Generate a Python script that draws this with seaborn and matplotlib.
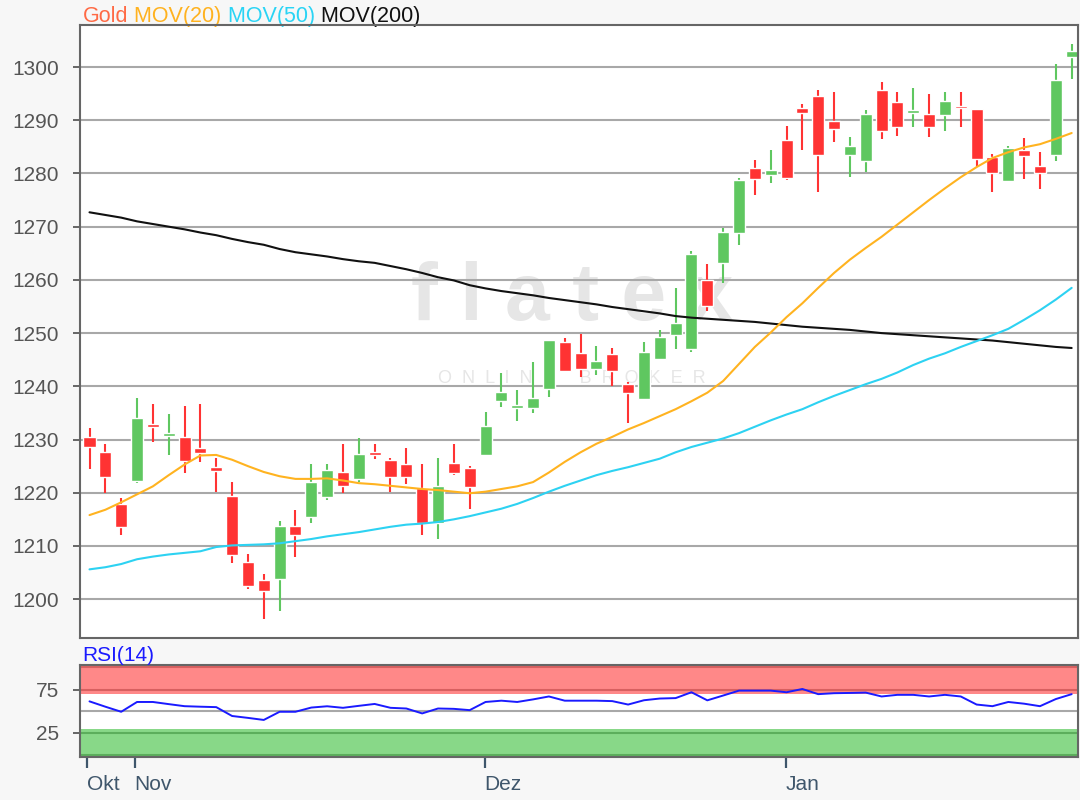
import numpy as np
import pandas as pd
import matplotlib
matplotlib.use("Agg")
import matplotlib.pyplot as plt
import seaborn as sns

# Gold daily candles, end of Oct to end of Jan
opens = [1230.5, 1227.6, 1217.9, 1222.2, 1232.9, 1230.8, 1230.5, 1228.4, 1224.8, 1219.4,
         1207.0, 1203.6, 1203.8, 1213.7, 1215.4, 1219.2, 1223.9, 1222.6, 1227.6, 1226.1,
         1225.4, 1220.9, 1214.3, 1225.6, 1224.6, 1227.1, 1237.2, 1236.1, 1235.9, 1239.5,
         1248.3, 1246.2, 1243.2, 1246.0, 1240.4, 1237.6, 1245.1, 1249.6, 1247.0, 1260.0,
         1263.2, 1268.8, 1281.0, 1279.7, 1286.3, 1292.3, 1294.5, 1289.8, 1283.5, 1282.3,
         1295.7, 1293.4, 1291.6, 1291.2, 1291.0, 1292.6, 1292.1, 1283.1, 1278.6, 1284.4,
         1281.4, 1283.5, 1301.9]
closes = [1228.6, 1222.9, 1213.5, 1234.0, 1232.3, 1231.1, 1225.9, 1227.4, 1224.1, 1208.3,
          1202.4, 1201.5, 1213.7, 1212.0, 1222.0, 1224.2, 1221.2, 1227.3, 1227.1, 1222.9,
          1222.9, 1214.3, 1221.2, 1223.7, 1221.1, 1232.5, 1238.9, 1236.4, 1237.8, 1248.7,
          1242.9, 1243.2, 1244.7, 1242.9, 1238.7, 1246.4, 1249.2, 1251.9, 1264.8, 1255.1,
          1269.0, 1278.8, 1278.9, 1280.6, 1279.1, 1291.4, 1283.5, 1288.3, 1285.2, 1291.2,
          1288.0, 1288.7, 1291.8, 1288.7, 1293.6, 1292.4, 1282.7, 1280.1, 1284.8, 1283.3,
          1280.1, 1297.6, 1303.0]
highs = [1232.1, 1229.1, 1219.0, 1237.8, 1236.7, 1234.8, 1236.3, 1236.7, 1226.5, 1222.0,
         1208.5, 1204.7, 1214.7, 1216.7, 1225.4, 1225.4, 1229.1, 1230.3, 1229.1, 1226.5,
         1228.4, 1225.4, 1226.5, 1229.1, 1225.0, 1235.2, 1242.5, 1239.3, 1244.5, 1248.7,
         1249.1, 1249.8, 1247.6, 1247.2, 1240.8, 1248.3, 1250.6, 1258.5, 1265.4, 1263.0,
         1269.7, 1279.1, 1282.5, 1284.4, 1288.9, 1293.0, 1295.7, 1295.3, 1286.8, 1291.9,
         1297.2, 1295.3, 1296.1, 1294.9, 1295.3, 1295.3, 1292.1, 1283.6, 1285.2, 1286.7,
         1284.0, 1300.6, 1304.3]
lows = [1224.4, 1219.9, 1212.0, 1221.8, 1229.5, 1227.1, 1223.7, 1225.8, 1220.1, 1206.8,
        1201.9, 1196.2, 1197.7, 1207.9, 1214.3, 1218.6, 1219.9, 1222.0, 1226.3, 1220.1,
        1221.6, 1212.0, 1211.3, 1223.3, 1216.9, 1227.1, 1236.1, 1233.5, 1234.9, 1238.0,
        1242.9, 1241.7, 1242.1, 1240.0, 1233.1, 1237.6, 1245.1, 1247.0, 1246.4, 1254.1,
        1259.4, 1266.5, 1275.9, 1278.2, 1278.8, 1284.4, 1276.5, 1285.9, 1279.3, 1280.3,
        1286.5, 1287.0, 1288.7, 1286.8, 1288.0, 1288.7, 1281.2, 1276.5, 1278.6, 1278.9,
        1277.1, 1282.3, 1297.7]

mov20 = [1215.8, 1216.8, 1218.2, 1219.7, 1221.2, 1223.3, 1225.3, 1227.0, 1227.1, 1226.2,
         1225.0, 1223.9, 1223.1, 1222.6, 1222.6, 1222.7, 1222.3, 1221.8, 1221.6, 1221.3,
         1221.0, 1220.7, 1220.5, 1220.2, 1219.9, 1220.2, 1220.7, 1221.2, 1222.0, 1223.8,
         1225.8, 1227.6, 1229.2, 1230.5, 1231.9, 1233.1, 1234.4, 1235.7, 1237.2, 1238.8,
         1241.0, 1244.2, 1247.4, 1250.1, 1253.0, 1255.6, 1258.5, 1261.3, 1263.8, 1266.0,
         1268.1, 1270.4, 1272.7, 1275.0, 1277.2, 1279.3, 1281.2, 1282.9, 1284.0, 1284.9,
         1285.5, 1286.5, 1287.6]
mov50 = [1205.6, 1206.0, 1206.6, 1207.5, 1208.0, 1208.4, 1208.7, 1209.0, 1209.8, 1210.1,
         1210.2, 1210.3, 1210.5, 1210.9, 1211.3, 1211.8, 1212.2, 1212.6, 1213.1, 1213.6,
         1214.0, 1214.2, 1214.5, 1215.0, 1215.6, 1216.3, 1217.0, 1217.9, 1219.0, 1220.2,
         1221.3, 1222.3, 1223.3, 1224.1, 1224.8, 1225.6, 1226.4, 1227.6, 1228.6, 1229.4,
         1230.2, 1231.2, 1232.4, 1233.6, 1234.7, 1235.7, 1237.0, 1238.2, 1239.3, 1240.4,
         1241.4, 1242.6, 1244.0, 1245.2, 1246.2, 1247.4, 1248.5, 1249.6, 1250.8, 1252.5,
         1254.3, 1256.3, 1258.5]
mov200 = [1272.7, 1272.2, 1271.7, 1271.0, 1270.5, 1270.0, 1269.5, 1268.9, 1268.4, 1267.7,
          1267.1, 1266.6, 1265.8, 1265.2, 1264.8, 1264.4, 1263.9, 1263.5, 1263.2, 1262.6,
          1262.0, 1261.3, 1260.5, 1259.9, 1259.0, 1258.4, 1257.9, 1257.5, 1257.1, 1256.6,
          1256.2, 1255.8, 1255.4, 1254.9, 1254.5, 1254.1, 1253.7, 1253.2, 1252.9, 1252.7,
          1252.5, 1252.3, 1252.1, 1251.8, 1251.5, 1251.2, 1251.0, 1250.8, 1250.6, 1250.3,
          1250.0, 1249.8, 1249.6, 1249.4, 1249.2, 1249.0, 1248.8, 1248.6, 1248.3, 1248.0,
          1247.7, 1247.4, 1247.2]
rsi = [61.7, 55.5, 49.6, 61.0, 61.0, 58.5, 56.1, 55.5, 55.0, 44.7,
       42.5, 40.1, 49.6, 49.6, 54.5, 56.0, 54.2, 56.5, 58.7, 54.2,
       53.4, 47.7, 53.4, 53.0, 51.5, 61.0, 62.5, 61.0, 64.0, 67.4,
       62.5, 62.5, 62.5, 62.0, 58.0, 63.0, 65.0, 65.5, 72.3, 62.9,
       68.5, 74.2, 74.2, 74.2, 72.3, 76.1, 70.1, 71.2, 71.5, 71.9,
       67.4, 69.3, 69.3, 67.4, 69.3, 67.4, 58.0, 56.1, 61.0, 59.0,
       56.1, 64.4, 70.1]

month_pos = [-0.15, 2.85, 24.95, 43.95]
month_labels = ["Okt", "Nov", "Dez", "Jan"]
price_ticks = list(range(1200, 1301, 10))

df = pd.DataFrame({"open": opens, "close": closes, "high": highs, "low": lows,
                   "mov20": mov20, "mov50": mov50, "mov200": mov200, "rsi": rsi})
df["idx"] = np.arange(len(df))

sns.set_style("white")
plt.rcParams["font.family"] = ["Liberation Sans", "DejaVu Sans"]

W, H = 1080, 800
fig = plt.figure(figsize=(10.8, 8), dpi=100, facecolor="#f7f7f7")
ax = fig.add_axes([80 / W, 1 - 638 / H, 998 / W, 613 / H])
ax2 = fig.add_axes([80 / W, 1 - 757 / H, 998 / W, 92 / H])

RED, GREEN = "#ff3333", "#5fc760"
SPINE = "#666666"

# candles
up = df["close"] >= df["open"]
cols = np.where(up, GREEN, RED)
ax.vlines(df["idx"], df["low"], df["high"], colors=cols, lw=1.5, zorder=3)
body = (df["close"] - df["open"]).abs()
h = np.maximum(body, 0.5)
mid = (df["close"] + df["open"]) / 2
ax.bar(df["idx"], h, bottom=mid - h / 2, width=0.76, color=cols, zorder=4)

sns.lineplot(data=df, x="idx", y="mov200", color="#111111", lw=1.5, ax=ax, zorder=5)
sns.lineplot(data=df, x="idx", y="mov50", color="#2dd2f2", lw=1.5, ax=ax, zorder=5)
sns.lineplot(data=df, x="idx", y="mov20", color="#ffb320", lw=1.5, ax=ax, zorder=5)

ax.set_xlim(-0.6, 62.4)
ax.set_ylim(1192.7, 1307.9)
ax.set_yticks(price_ticks)
ax.set_xticks([])
ax.set_xlabel("")
ax.set_ylabel("")
for y in price_ticks:
    ax.axhline(y, color="#a8a8a8", lw=1.5, zorder=1)

# watermark
ax.text(0.493, 1256.5, "f l a t e x", transform=ax.get_yaxis_transform(), ha="center",
        va="center", fontsize=58, fontweight="bold", color="#e6e6e6", zorder=0)
ax.text(0.493, 1241.5, "O  N  L  I  N  E     B  R  O  K  E  R",
        transform=ax.get_yaxis_transform(), ha="center", va="center", fontsize=13,
        color="#e6e6e6", zorder=0)

# RSI panel
ax2.axhspan(70, 104, color="#ff8888", lw=0, zorder=0)
ax2.axhspan(-3, 30, color="#88d888", lw=0, zorder=0)
ax2.axhline(101.5, color="#d86060", lw=1.5, zorder=1)
ax2.axhline(75, color="#d86060", lw=1.5, zorder=1)
ax2.axhline(25, color="#5cae5c", lw=1.5, zorder=1)
ax2.axhline(-0.8, color="#5cae5c", lw=1.5, zorder=1)
ax2.axhline(50, color="#a8a8a8", lw=1.5, zorder=1)
sns.lineplot(data=df, x="idx", y="rsi", color="#1a1aff", lw=1.4, ax=ax2, zorder=3)
ax2.set_xlim(-0.6, 62.4)
ax2.set_ylim(-3, 104)
ax2.set_yticks([25, 75])
ax2.set_xticks(month_pos)
ax2.set_xticklabels(month_labels, ha="left")
ax2.set_xlabel("")
ax2.set_ylabel("")

for a in (ax, ax2):
    a.set_facecolor("white")
    for s in a.spines.values():
        s.set_color(SPINE)
        s.set_linewidth(1.5)
        s.set_zorder(6)
    a.tick_params(axis="y", which="both", left=True, length=5, width=1.4, color=SPINE,
                  labelcolor="#555555", labelsize=15, pad=10)
ax2.tick_params(axis="x", bottom=True, length=8, width=1.6, color="#3f566b",
                labelcolor="#3f566b", labelsize=15, pad=5)

# title in several colours
t = fig.text(83 / W, 1 - 22 / H, "Gold", color="#ff6a45", fontsize=15.5, va="baseline")
for s, c in [(" MOV(20)", "#ffb21f"), (" MOV(50)", "#2ad4f5"), (" MOV(200)", "#111111")]:
    t = ax.annotate(s, xy=(1, 0), xycoords=t, color=c, fontsize=15.5, va="bottom",
                    annotation_clip=False)
fig.text(82 / W, 1 - 661 / H, "RSI(14)", color="#1a1aff", fontsize=15, va="baseline")

fig.savefig("out.png", dpi=100, facecolor=fig.get_facecolor())
